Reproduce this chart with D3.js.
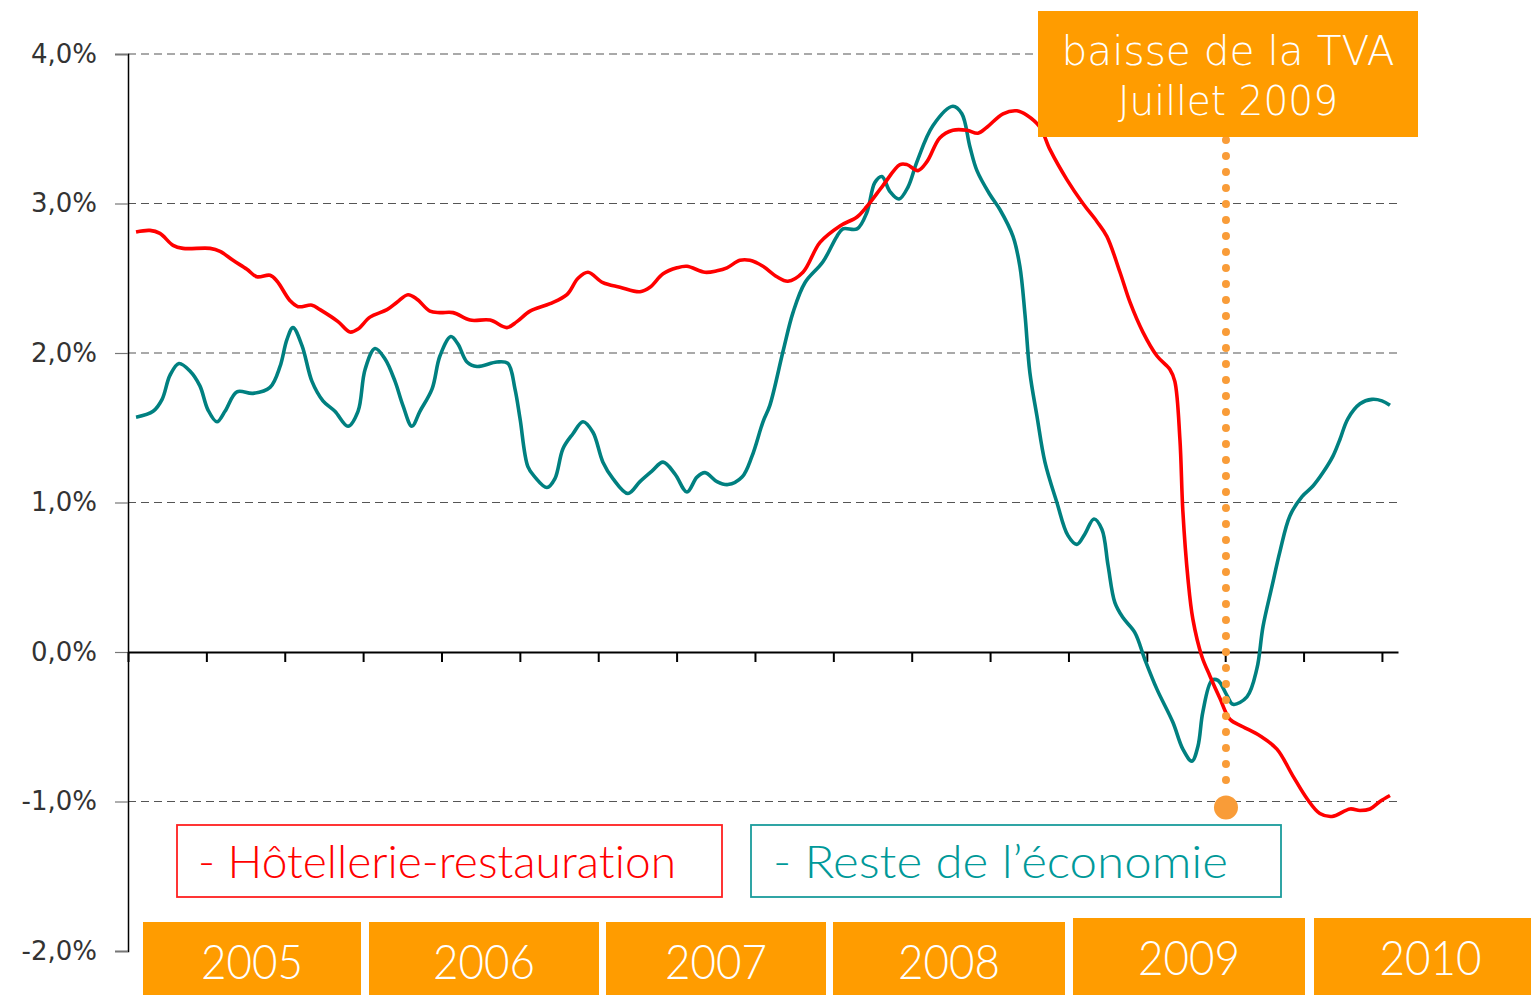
<!DOCTYPE html>
<html>
<head>
<meta charset="utf-8">
<script src="https://cdn.jsdelivr.net/npm/d3@7"></script>
<style>
  html, body { margin: 0; padding: 0; background: #fff; }
  svg { display: block; }
  text { font-variant-ligatures: none; font-feature-settings: "liga" 0, "clig" 0; }
</style>
</head>
<body>
<svg id="chart"></svg>
<script>
// months counted from Jan 2005 (0 = start of 2005), values in %
const hotelMonths = [0.41,1.12,1.63,2.30,2.81,4.19,4.70,5.36,6.07,6.58,7.25,7.61,8.27,8.68,9.39,9.80,10.72,11.33,11.74,12.35,13.22,13.73,14.29,14.75,15.41,15.92,16.59,17.46,18.48,19.34,19.85,20.52,21.54,22.40,22.97,23.48,24.24,25.11,26.13,26.64,27.31,28.02,28.53,29.45,30.06,30.57,31.23,31.74,32.41,33.12,33.68,34.45,35.32,36.34,37.21,37.71,38.53,39.40,39.76,40.32,40.78,41.44,42.10,42.82,43.38,43.84,44.66,45.37,45.88,46.55,47.06,47.92,48.74,49.45,49.96,50.63,51.14,51.80,52.52,53.18,53.43,53.69,53.84,54.10,54.35,54.81,55.22,55.73,56.24,56.90,57.77,58.64,59.46,60.17,60.83,61.45,62.37,62.88,63.39,63.90,64.41];
const hotelValues = [2.81,2.82,2.80,2.72,2.70,2.70,2.68,2.62,2.56,2.51,2.52,2.48,2.35,2.31,2.32,2.29,2.21,2.14,2.16,2.24,2.29,2.34,2.39,2.36,2.28,2.27,2.27,2.22,2.22,2.17,2.21,2.28,2.33,2.39,2.50,2.54,2.47,2.44,2.41,2.44,2.53,2.57,2.58,2.54,2.55,2.57,2.62,2.62,2.58,2.51,2.48,2.54,2.74,2.85,2.91,2.98,3.12,3.26,3.26,3.22,3.28,3.44,3.49,3.49,3.47,3.51,3.60,3.62,3.59,3.51,3.36,3.16,3.00,2.88,2.78,2.54,2.34,2.14,1.98,1.89,1.81,1.42,0.94,0.49,0.22,-0.03,-0.16,-0.31,-0.45,-0.50,-0.56,-0.65,-0.83,-0.98,-1.08,-1.10,-1.05,-1.06,-1.05,-1.00,-0.96];

const restMonths = [0.41,1.28,1.74,2.14,2.60,3.16,3.67,4.08,4.54,4.95,5.56,6.38,7.25,7.76,8.11,8.42,8.88,9.39,9.95,10.56,11.23,11.74,12.10,12.61,13.12,13.63,14.03,14.49,14.90,15.52,15.92,16.48,16.84,17.30,17.81,18.83,19.39,19.75,20.01,20.41,20.77,21.38,21.79,22.20,22.71,23.22,23.73,24.24,24.75,25.52,26.13,26.74,27.31,27.92,28.53,29.04,29.45,30.06,30.62,31.34,31.85,32.41,32.76,33.43,33.94,34.55,35.47,36.18,36.49,37.21,37.71,38.12,38.48,38.89,39.35,39.81,40.27,41.08,42.10,42.56,42.97,43.33,43.99,44.50,45.17,45.52,45.78,46.03,46.39,46.80,47.41,47.97,48.43,48.84,49.30,49.71,50.02,50.37,50.78,51.39,51.90,52.52,53.33,53.84,54.30,54.61,54.86,55.32,55.63,56.09,56.40,57.11,57.62,57.93,58.39,58.79,59.30,59.92,60.48,60.99,61.50,61.85,62.26,62.88,63.49,64.00,64.41];
const restValues = [1.57,1.61,1.69,1.85,1.93,1.88,1.78,1.62,1.54,1.61,1.74,1.73,1.77,1.91,2.09,2.17,2.05,1.81,1.68,1.61,1.51,1.61,1.89,2.03,1.96,1.81,1.65,1.51,1.61,1.76,1.98,2.11,2.06,1.94,1.91,1.94,1.93,1.76,1.56,1.24,1.17,1.10,1.16,1.36,1.46,1.54,1.47,1.27,1.16,1.06,1.14,1.21,1.27,1.19,1.07,1.17,1.20,1.14,1.12,1.17,1.31,1.54,1.65,2.01,2.27,2.47,2.61,2.78,2.83,2.83,2.94,3.14,3.18,3.08,3.03,3.11,3.28,3.52,3.65,3.60,3.38,3.22,3.06,2.96,2.78,2.58,2.26,1.87,1.58,1.27,1.00,0.78,0.72,0.79,0.89,0.82,0.58,0.33,0.23,0.13,-0.05,-0.25,-0.47,-0.65,-0.73,-0.63,-0.40,-0.19,-0.19,-0.29,-0.35,-0.30,-0.11,0.17,0.44,0.67,0.91,1.04,1.11,1.20,1.31,1.42,1.56,1.66,1.69,1.68,1.65];

const yTicks = [4, 3, 2, 1, 0, -1, -2];
const xTicks = [0, 4, 8, 12, 16, 20, 24, 28, 32, 36, 40, 44, 48, 52, 56, 60, 64];
const years = ["2005", "2006", "2007", "2008", "2009", "2010"];
const legendLabels = ["- Hôtellerie-restauration", "- Reste de l\u2019économie"];
const noteLines = ["baisse de la TVA", "Juillet 2009"];
const noteMonth = 56.04;
const noteValue = -1.04;

const W = 1531, H = 995;
const svg = d3.select("#chart").attr("width", W).attr("height", H);

const x = d3.scaleLinear().domain([0, 64.82]).range([128, 1398]);
const y = d3.scaleLinear().domain([-2, 4]).range([951, 54]);

// grid
svg.append("g")
  .selectAll("line")
  .data(yTicks.filter(d => d !== 0 && d !== -2))
  .enter().append("line")
  .attr("x1", 128).attr("x2", 1398)
  .attr("y1", d => y(d)).attr("y2", d => y(d))
  .attr("stroke", "#555").attr("stroke-width", 1.2)
  .attr("stroke-dasharray", "8,5");

// y axis
const yAxis = d3.axisLeft(y)
  .tickValues(yTicks)
  .tickSize(13)
  .tickPadding(18)
  .tickFormat(d => d3.format(".1f")(d).replace(".", ",").replace("−", "-") + "%");

const gy = svg.append("g").attr("transform", "translate(128,0)").call(yAxis);
gy.select(".domain").attr("stroke", "#000").attr("stroke-width", 1.5);
gy.selectAll(".tick line").attr("stroke", "#777").attr("stroke-width", 1.2);
gy.selectAll(".tick text")
  .attr("fill", "#333")
  .style("font-family", "'DejaVu Sans', sans-serif")
  .style("font-size", "26px");

// x axis at zero
const xAxis = d3.axisBottom(x).tickValues(xTicks).tickSize(10).tickFormat("").tickSizeOuter(0);
const gx = svg.append("g").attr("transform", `translate(0,${y(0)})`).call(xAxis);
gx.select(".domain").attr("stroke", "#000").attr("stroke-width", 2.2);
gx.selectAll(".tick line").attr("stroke", "#000").attr("stroke-width", 2);

// lines
const line = d3.line()
  .x(d => x(d[0]))
  .y(d => y(d[1]))
  .curve(d3.curveCatmullRom.alpha(0.5));

svg.append("path")
  .datum(restMonths.map((m, i) => [m, restValues[i]]))
  .attr("d", line)
  .attr("fill", "none")
  .attr("stroke", "#008080")
  .attr("stroke-width", 3.6);

svg.append("path")
  .datum(hotelMonths.map((m, i) => [m, hotelValues[i]]))
  .attr("d", line)
  .attr("fill", "none")
  .attr("stroke", "#ff0000")
  .attr("stroke-width", 3.6);

// annotation
svg.append("line")
  .attr("x1", x(noteMonth)).attr("x2", x(noteMonth))
  .attr("y1", 140).attr("y2", y(noteValue) - 14)
  .attr("stroke", "#f99c38")
  .attr("stroke-width", 8)
  .attr("stroke-linecap", "round")
  .attr("stroke-dasharray", "0,16");

svg.append("circle")
  .attr("cx", x(noteMonth)).attr("cy", y(noteValue))
  .attr("r", 12)
  .attr("fill", "#f99c38");

svg.append("rect")
  .attr("x", 1038).attr("y", 11)
  .attr("width", 380).attr("height", 126)
  .attr("fill", "#ff9c00");

const noteLen = [333, 220];
svg.selectAll(".note")
  .data(noteLines)
  .enter().append("text")
  .attr("class", "note")
  .attr("x", 1228)
  .attr("y", (d, i) => 65 + i * 50)
  .attr("text-anchor", "middle")
  .attr("textLength", (d, i) => noteLen[i])
  .attr("lengthAdjust", "spacingAndGlyphs")
  .attr("fill", "#fff")
  .style("font-family", "'DejaVu Sans', sans-serif")
  .style("font-weight", "300")
  .style("font-size", "41px")
  .text(d => d);

// legend
const legendBoxes = [
  { x: 177, w: 545, color: "#ff0000", stroke: "#ff2020", tx: 198, tl: 478 },
  { x: 751, w: 530, color: "#009999", stroke: "#1a9c9c", tx: 773, tl: 455 }
];
legendBoxes.forEach((b, i) => {
  svg.append("rect")
    .attr("x", b.x).attr("y", 825)
    .attr("width", b.w).attr("height", 72)
    .attr("fill", "#fff")
    .attr("stroke", b.stroke)
    .attr("stroke-width", 1.8);
  svg.append("text")
    .attr("x", b.tx).attr("y", 878)
    .attr("textLength", b.tl)
    .attr("lengthAdjust", "spacingAndGlyphs")
    .attr("fill", b.color)
    .style("font-family", "Lato, 'Liberation Sans Narrow', sans-serif")
    .style("font-weight", "300")
    .style("font-size", "45px")
    .text(legendLabels[i]);
});

// year boxes
const yearBoxes = [
  { x0: 143, x1: 361, top: 922, base: 979 },
  { x0: 369, x1: 599, top: 922, base: 979 },
  { x0: 606, x1: 826, top: 922, base: 979 },
  { x0: 833, x1: 1065, top: 922, base: 979 },
  { x0: 1073, x1: 1305, top: 918, base: 975 },
  { x0: 1314, x1: 1531, top: 918, base: 975 }
];
const yg = svg.append("g");
yg.selectAll("rect")
  .data(yearBoxes)
  .enter().append("rect")
  .attr("x", d => d.x0).attr("y", d => d.top)
  .attr("width", d => d.x1 - d.x0)
  .attr("height", d => H - d.top)
  .attr("fill", "#ff9c00");
yg.selectAll("text")
  .data(yearBoxes)
  .enter().append("text")
  .attr("x", d => (d.x0 + d.x1) / 2 + (d.x1 === 1531 ? 8 : 0))
  .attr("y", d => d.base)
  .attr("text-anchor", "middle")
  .attr("textLength", 102)
  .attr("lengthAdjust", "spacingAndGlyphs")
  .attr("fill", "#fff")
  .style("font-family", "Lato, 'Liberation Sans Narrow', sans-serif")
  .style("font-weight", "300")
  .style("font-size", "47px")
  .text((d, i) => years[i]);
</script>
</body>
</html>
